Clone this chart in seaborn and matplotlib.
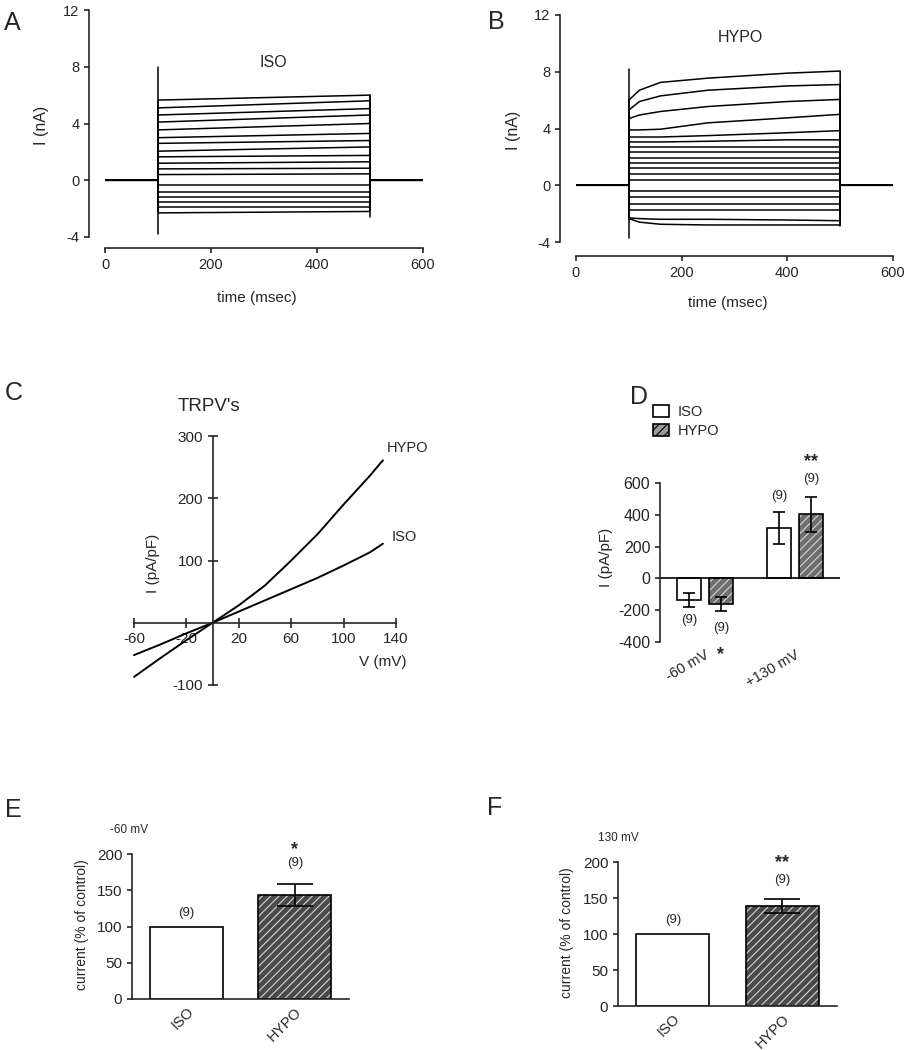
import pandas as pd
import seaborn as sns
import matplotlib.pyplot as plt
from matplotlib.patches import Patch, Rectangle

# ---------------- data ----------------
# A / B: whole-cell current sweeps (nA)
sweep_t = [0, 600]                      # recording window (msec)
iso_t = [100, 500]                      # sample times during the step
iso_steps = [
    [5.65, 6.00], [5.10, 5.60], [4.60, 5.05], [4.10, 4.60], [3.55, 4.00],
    [3.00, 3.30], [2.60, 2.80], [2.05, 2.35], [1.65, 1.75], [1.20, 1.30],
    [0.80, 0.85], [0.40, 0.45], [-0.35, -0.35], [-0.80, -0.80], [-1.20, -1.20],
    [-1.50, -1.50], [-1.90, -1.90], [-2.30, -2.20],
]
iso_spikes = [[-3.8, 8.0], [-2.6, 6.0]]     # capacitive transients, step on / off

hypo_t = [100, 120, 160, 250, 400, 500]
hypo_steps = [
    [6.00, 6.70, 7.25, 7.55, 7.90, 8.05],
    [5.30, 5.90, 6.30, 6.70, 7.00, 7.10],
    [4.70, 4.95, 5.20, 5.55, 5.90, 6.05],
    [3.90, 3.90, 3.95, 4.40, 4.75, 5.00],
    [3.40, 3.40, 3.40, 3.50, 3.70, 3.85],
    [3.05, 3.05, 3.05, 3.10, 3.20, 3.20],
    [2.70, 2.70, 2.70, 2.70, 2.70, 2.70],
    [2.35, 2.35, 2.35, 2.35, 2.35, 2.35],
    [1.95, 1.95, 1.95, 1.95, 1.95, 1.95],
    [1.60, 1.60, 1.60, 1.60, 1.60, 1.60],
    [1.20, 1.20, 1.20, 1.20, 1.20, 1.20],
    [0.80, 0.80, 0.80, 0.80, 0.80, 0.80],
    [0.40, 0.40, 0.40, 0.40, 0.40, 0.40],
    [-0.40, -0.40, -0.40, -0.40, -0.40, -0.40],
    [-0.80, -0.80, -0.80, -0.80, -0.80, -0.80],
    [-1.30, -1.30, -1.30, -1.30, -1.30, -1.30],
    [-1.75, -1.75, -1.75, -1.75, -1.75, -1.75],
    [-2.30, -2.35, -2.40, -2.40, -2.45, -2.50],
    [-2.35, -2.60, -2.75, -2.80, -2.80, -2.80],
]
hypo_spikes = [[-3.7, 8.2], [-2.9, 6.0]]

# C: I-V relation (pA/pF)
iv_v = [-60, -40, -20, 0, 20, 40, 60, 80, 100, 120, 130]
iv_iso = [-52, -35, -17, 0, 18, 36, 54, 72, 92, 113, 127]
iv_hypo = [-87, -57, -28, 0, 28, 60, 100, 142, 190, 236, 261]

# D: mean current density (pA/pF)
d_groups = ['-60 mV', '+130 mV']
d_conds = ['ISO', 'HYPO']
d_iso_mean = [-137, 316]
d_iso_err = [45, 100]
d_hypo_mean = [-160, 404]
d_hypo_err = [42, 110]
d_iso_n_y = [-264, 516]
d_hypo_n_y = [-314, 623]
d_hypo_star = ['*', '**']
d_hypo_star_y = [-509, 704]

# E / F: current as % of control
ef_conds = ['ISO', 'HYPO']
e_mean = [100, 143]
e_err = [0, 15]
e_n_y = [119, 187]
e_star = ['', '*']
e_star_y = 200
f_mean = [100, 139]
f_err = [0, 10]
f_n_y = [120, 175]
f_star = ['', '**']
f_star_y = 193

# ---------------- style ----------------
sns.set_style('ticks')
plt.rcParams['font.family'] = ['Liberation Sans', 'DejaVu Sans']
plt.rcParams['axes.unicode_minus'] = False
plt.rcParams['hatch.linewidth'] = 0.8
plt.rcParams['axes.linewidth'] = 1.2
plt.rcParams['xtick.major.width'] = 1.2
plt.rcParams['ytick.major.width'] = 1.2

W, H = 915, 1050
fig = plt.figure(figsize=(W / 100, H / 100), dpi=100)


def box(x0, y0, x1, y1):
    return [x0 / W, 1 - y1 / H, (x1 - x0) / W, (y1 - y0) / H]


def sweep_frame(step_t, steps, spikes):
    rows = []
    for k, lev in enumerate(steps):
        ts = [sweep_t[0], step_t[0]] + step_t + [step_t[-1], sweep_t[1]]
        cur = [0, 0] + lev + [0, 0]
        rows += [(k, t, c) for t, c in zip(ts, cur)]
    for k, (t, sp) in enumerate(zip([step_t[0], step_t[-1]], spikes)):
        rows += [(100 + k, t, sp[0]), (100 + k, t, sp[1])]
    return pd.DataFrame(rows, columns=['sweep', 't', 'I'])


def hatch_bar(ax, bar, face):
    bar.set_facecolor(face)
    bar.set_edgecolor('#d5d5d5')
    bar.set_hatch('////')
    bar.set_linewidth(0)
    ax.add_patch(Rectangle(bar.get_xy(), bar.get_width(), bar.get_height(),
                           fill=False, edgecolor='black', lw=1.2,
                           zorder=bar.get_zorder() + 0.1))


# ---------------- A / B ----------------
axA = fig.add_axes(box(105, 10, 423, 237))
axB = fig.add_axes(box(576, 15, 893, 242))
panels = [(axA, iso_t, iso_steps, iso_spikes, 'ISO', (317, 8.3), 11.5, 8),
          (axB, hypo_t, hypo_steps, hypo_spikes, 'HYPO', (312, 10.4), 11.5, 10)]
for ax, st, steps, spikes, name, pos, offl, offb in panels:
    df = sweep_frame(st, steps, spikes)
    sns.lineplot(data=df, x='t', y='I', units='sweep', estimator=None, sort=False,
                 color='black', lw=1.1, ax=ax)
    ax.set_xlim(0, 600)
    ax.set_ylim(-4, 12)
    ax.set_xticks([0, 200, 400, 600])
    ax.set_yticks([-4, 0, 4, 8, 12])
    sns.despine(ax=ax, offset={'left': offl, 'bottom': offb})
    ax.tick_params(labelsize=10.5, length=3.5)
    ax.set_xlabel('time (msec)', fontsize=11)
    ax.set_ylabel('I (nA)', fontsize=11.5)
    ax.xaxis.set_label_coords(0.478, -0.24)
    ax.yaxis.set_label_coords(-0.175, 0.49)
    ax.text(pos[0], pos[1], name, fontsize=11.5, ha='center', va='center')

# ---------------- C ----------------
axC = fig.add_axes(box(134, 436, 396, 685))
ivdf = pd.DataFrame({'V': iv_v * 2, 'I': iv_iso + iv_hypo,
                     'cond': ['ISO'] * len(iv_v) + ['HYPO'] * len(iv_v)})
sns.lineplot(data=ivdf, x='V', y='I', hue='cond', palette={'ISO': 'black', 'HYPO': 'black'},
             legend=False, lw=1.4, clip_on=False, ax=axC)
axC.set_xlim(-60, 140)
axC.set_ylim(-100, 300)
axC.spines[['top', 'right']].set_visible(False)
axC.spines['left'].set_position(('data', 0))
axC.spines['bottom'].set_position(('data', 0))
axC.set_xticks([-60, -20, 20, 60, 100, 140])
axC.set_yticks([-100, 100, 200, 300])
axC.tick_params(direction='inout', length=7, labelsize=11)
axC.set_xlabel('V (mV)', fontsize=11)
axC.xaxis.set_label_coords(0.95, 0.12)
axC.set_ylabel('I (pA/pF)', fontsize=11)
axC.yaxis.set_label_coords(0.10, 0.49)
axC.text(0.286, 1.117, "TRPV's", transform=axC.transAxes, fontsize=13.5, ha='center', va='center')
axC.text(149, 280, 'HYPO', fontsize=10.5, ha='center', va='center')
axC.text(146, 137, 'ISO', fontsize=10.5, ha='center', va='center')

# ---------------- D ----------------
axD = fig.add_axes(box(660, 483, 840, 642))
ddf = pd.DataFrame({'group': d_groups * 2, 'value': d_iso_mean + d_hypo_mean,
                    'cond': ['ISO'] * 2 + ['HYPO'] * 2})
sns.barplot(data=ddf, x='group', y='value', hue='cond', order=d_groups, hue_order=d_conds,
            palette={'ISO': 'white', 'HYPO': '#6e6e6e'}, saturation=1, width=0.7, gap=0.25,
            errorbar=None, edgecolor='black', linewidth=1.2, legend=False, ax=axD)
for bar in axD.containers[1]:
    hatch_bar(axD, bar, '#6e6e6e')
for cont, means, errs, ny in [(axD.containers[0], d_iso_mean, d_iso_err, d_iso_n_y),
                              (axD.containers[1], d_hypo_mean, d_hypo_err, d_hypo_n_y)]:
    for bar, m, e, y in zip(cont, means, errs, ny):
        x = bar.get_x() + bar.get_width() / 2
        axD.errorbar(x, m, yerr=e, fmt='none', ecolor='black', elinewidth=1.2,
                     capsize=4.5, capthick=1.2, zorder=5)
        axD.text(x, y, '(9)', fontsize=9.5, ha='center', va='center')
for bar, s, y in zip(axD.containers[1], d_hypo_star, d_hypo_star_y):
    axD.text(bar.get_x() + bar.get_width() / 2, y, s, fontsize=13, fontweight='bold',
             ha='center', va='baseline')
axD.axhline(0, color='black', lw=1.2)
axD.set_ylim(-400, 600)
axD.set_xlim(-0.5, 1.5)
axD.set_yticks([-400, -200, 0, 200, 400, 600])
axD.spines[['top', 'right', 'bottom']].set_visible(False)
axD.tick_params(axis='x', length=0, labelsize=10.5, pad=4)
axD.tick_params(axis='y', labelsize=11.5, length=3.5)
plt.setp(axD.get_xticklabels(), rotation=30, ha='right', rotation_mode='anchor')
axD.set_xlabel('')
axD.set_ylabel('I (pA/pF)', fontsize=11)
axD.yaxis.set_label_coords(-0.26, 0.535)
handles = [Patch(facecolor='white', edgecolor='black', lw=1.2),
           Patch(facecolor='#9a9a9a', edgecolor='black', hatch='////', lw=1.2)]
axD.legend(handles, d_conds, loc='upper left', bbox_to_anchor=(-0.04, 1.49), frameon=False,
           borderpad=0, borderaxespad=0, labelspacing=0.3, handlelength=1.1,
           handleheight=0.9, handletextpad=0.6, fontsize=10.5)

# ---------------- E / F ----------------
axE = fig.add_axes(box(132, 854, 349, 999))
axF = fig.add_axes(box(618, 862, 837, 1006))
for ax, means, errs, ny, stars, sy, vlabel, lx in [
        (axE, e_mean, e_err, e_n_y, e_star, e_star_y, '-60 mV', -0.015),
        (axF, f_mean, f_err, f_n_y, f_star, f_star_y, '130 mV', 0.0)]:
    sns.barplot(x=ef_conds, y=means, hue=ef_conds, palette={'ISO': 'white', 'HYPO': '#4a4a4a'},
                saturation=1, width=0.67, errorbar=None, edgecolor='black', linewidth=1.2,
                legend=False, ax=ax)
    bars = [c[0] for c in ax.containers]
    hatch_bar(ax, bars[1], '#4a4a4a')
    for bar, m, e, y, s in zip(bars, means, errs, ny, stars):
        x = bar.get_x() + bar.get_width() / 2
        if e:
            ax.errorbar(x, m, yerr=e, fmt='none', ecolor='black', elinewidth=1.2,
                        capsize=13, capthick=1.2, zorder=5)
        ax.text(x, y, '(9)', fontsize=9.5, ha='center', va='center')
        if s:
            ax.text(x, sy, s, fontsize=13, fontweight='bold', ha='center', va='baseline')
    ax.set_ylim(0, 200)
    ax.set_xlim(-0.5, 1.5)
    ax.set_yticks([0, 50, 100, 150, 200])
    sns.despine(ax=ax)
    ax.tick_params(axis='x', length=0, labelsize=10.5, pad=4)
    ax.tick_params(axis='y', labelsize=11, length=3.5)
    plt.setp(ax.get_xticklabels(), rotation=45, ha='right', rotation_mode='anchor')
    ax.set_ylabel('current (% of control)', fontsize=10)
    ax.yaxis.set_label_coords(-0.2, 0.51)
    ax.text(lx, 1.165, vlabel, transform=ax.transAxes, fontsize=8.5, ha='center', va='center')

# ---------------- panel letters ----------------
for letter, x, y in [('A', 4, 23), ('B', 488, 22), ('C', 5, 393), ('D', 630, 397),
                     ('E', 5, 810), ('F', 487, 808)]:
    fig.text(x / W, 1 - y / H, letter, fontsize=18, ha='left', va='center')

fig.savefig('out.png', dpi=100)
